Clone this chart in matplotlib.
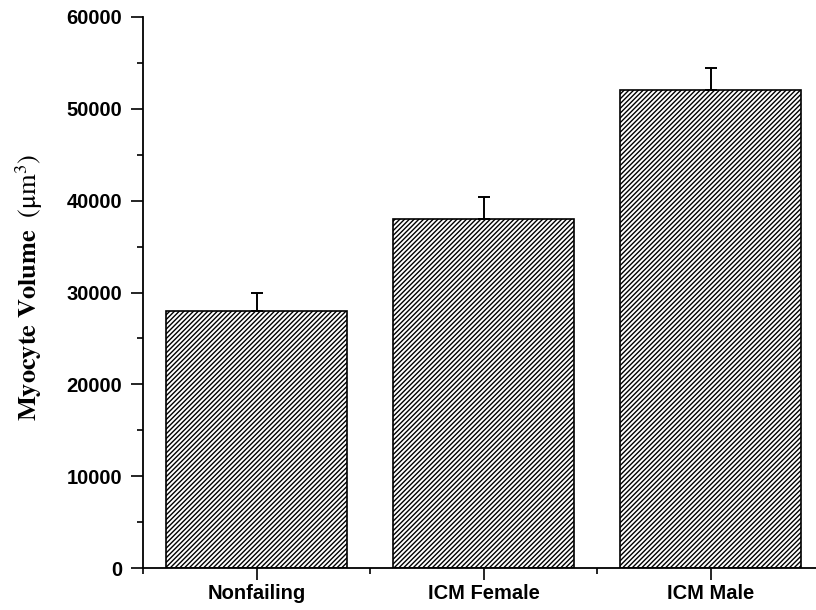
import matplotlib.pyplot as plt
import numpy as np
from matplotlib.ticker import MultipleLocator

# data
groups = ['Nonfailing', 'ICM Female', 'ICM Male']
volume = [28000, 38000, 52000]
sem = [2000, 2400, 2500]

plt.rcParams['mathtext.fontset'] = 'stix'
plt.rcParams['hatch.linewidth'] = 1.0

fig = plt.figure(figsize=(8.16, 6.10), dpi=100)
# x range 0.5..3.5 runs a little past the right edge, as in the original
ax = fig.add_axes([143 / 816, 42 / 610, 681 / 816, 551 / 610])

pos = np.arange(1, len(groups) + 1)
ax.bar(pos, volume, width=0.8, color='white', edgecolor='black',
       linewidth=1.2, hatch='///////', zorder=2)
ax.errorbar(pos, volume, yerr=[np.zeros(len(sem)), sem], fmt='none',
            ecolor='black', elinewidth=1.4, capsize=4.3, capthick=1.4, zorder=3)

ax.set_xlim(0.5, 3.5)
ax.set_ylim(0, 60000)
ax.set_xticks(pos)
ax.set_xticklabels(groups)
ax.xaxis.set_minor_locator(MultipleLocator(1, offset=0.5))
ax.yaxis.set_major_locator(MultipleLocator(10000))
ax.yaxis.set_minor_locator(MultipleLocator(5000))

for side in ['top', 'right']:
    ax.spines[side].set_visible(False)
for side in ['left', 'bottom']:
    ax.spines[side].set_linewidth(1.3)

ax.tick_params(which='major', length=8.5, width=1.2, direction='out')
ax.tick_params(which='minor', length=4.3, width=1.2, direction='out')
ax.tick_params(axis='y', pad=6.5)
ax.tick_params(axis='x', pad=3)
for lab in ax.get_xticklabels() + ax.get_yticklabels():
    lab.set_fontfamily('Liberation Sans')
    lab.set_fontweight('bold')
    lab.set_fontsize(14.5)

fig.text(29 / 816, 1 - 287 / 610,
         r'$\mathbf{Myocyte\ Volume}\ \ (\mathrm{\mu m}^{3})$',
         rotation=90, ha='center', va='center', fontsize=19)

fig.savefig('out.png', dpi=100)
